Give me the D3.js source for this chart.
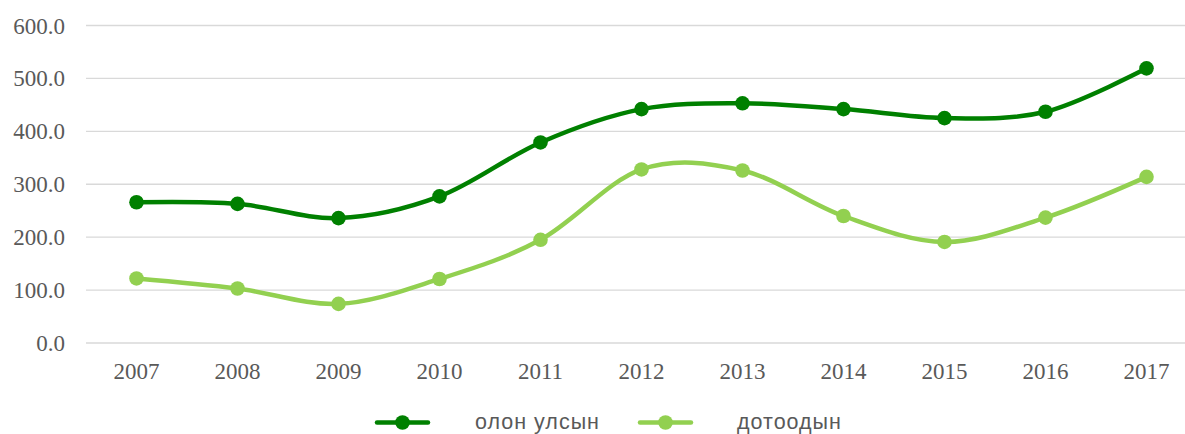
<!DOCTYPE html>
<html><head><meta charset="utf-8">
<script src="https://cdn.jsdelivr.net/npm/d3@7"></script>
<style>body{margin:0;background:#fff}</style>
</head><body>
<svg id="c" width="1185" height="434"></svg>
<script>
const years = ["2007","2008","2009","2010","2011","2012","2013","2014","2015","2016","2017"];
const international = [266, 263, 236, 277, 379, 442, 453, 442, 425, 437, 519];
const domestic = [122, 103, 74, 121, 195, 328, 326, 240, 191, 237, 314];
const yTicks = [0, 100, 200, 300, 400, 500, 600];
const seriesNames = ["олон улсын", "дотоодын"];
const colors = ["#008000", "#92D050"];

(function () {
const svg = d3.select("#c");
const mLeft = 86, mRight = 1197, mTop = 25.5, mBottom = 343;
const x = d3.scaleBand().domain(years).range([mLeft, mRight]);
const y = d3.scaleLinear().domain([0, 600]).range([mBottom, mTop]);

// gridlines
svg.append("g").selectAll("line").data(yTicks).join("line")
  .attr("x1", mLeft).attr("x2", 1185)
  .attr("y1", d => y(d)).attr("y2", d => y(d))
  .attr("stroke", "#d9d9d9").attr("stroke-width", 1.3);

// y labels
svg.append("g").selectAll("text").data(yTicks).join("text")
  .attr("x", 65).attr("y", d => y(d) + 8)
  .attr("text-anchor", "end")
  .attr("font-family", "Liberation Serif, Times New Roman, serif")
  .attr("font-size", 23).attr("fill", "#595959")
  .text(d => d.toFixed(1));

// x labels
svg.append("g").selectAll("text").data(years).join("text")
  .attr("x", d => x(d) + x.bandwidth() / 2).attr("y", 379)
  .attr("text-anchor", "middle")
  .attr("font-family", "Liberation Serif, Times New Roman, serif")
  .attr("font-size", 23).attr("fill", "#595959")
  .text(d => d);

const line = d3.line()
  .x((d, i) => x(years[i]) + x.bandwidth() / 2)
  .y(d => y(d))
  .curve(d3.curveCardinal.tension(0));

[international, domestic].forEach((data, k) => {
  svg.append("path").datum(data)
    .attr("d", line).attr("fill", "none")
    .attr("stroke", colors[k]).attr("stroke-width", 4.5)
    .attr("stroke-linecap", "round");
  svg.append("g").selectAll("circle").data(data).join("circle")
    .attr("cx", (d, i) => x(years[i]) + x.bandwidth() / 2)
    .attr("cy", d => y(d)).attr("r", 7.3)
    .attr("fill", colors[k]);
});

// legend
const legendItems = [
  {x1: 377, x2: 428, tx: 475},
  {x1: 640, x2: 691, tx: 737}
];
legendItems.forEach((L, k) => {
  const ly = 422.5;
  svg.append("line").attr("x1", L.x1).attr("x2", L.x2).attr("y1", ly).attr("y2", ly)
    .attr("stroke", colors[k]).attr("stroke-width", 4.5).attr("stroke-linecap", "round");
  svg.append("circle").attr("cx", (L.x1 + L.x2) / 2).attr("cy", ly).attr("r", 7.3).attr("fill", colors[k]);
  svg.append("text").attr("x", L.tx).attr("y", 428.5)
    .attr("font-family", "Liberation Sans, Arial, sans-serif")
    .attr("font-size", 21.5).attr("letter-spacing", 1).attr("fill", "#595959")
    .text(seriesNames[k]);
});
})();
</script>
</body></html>
